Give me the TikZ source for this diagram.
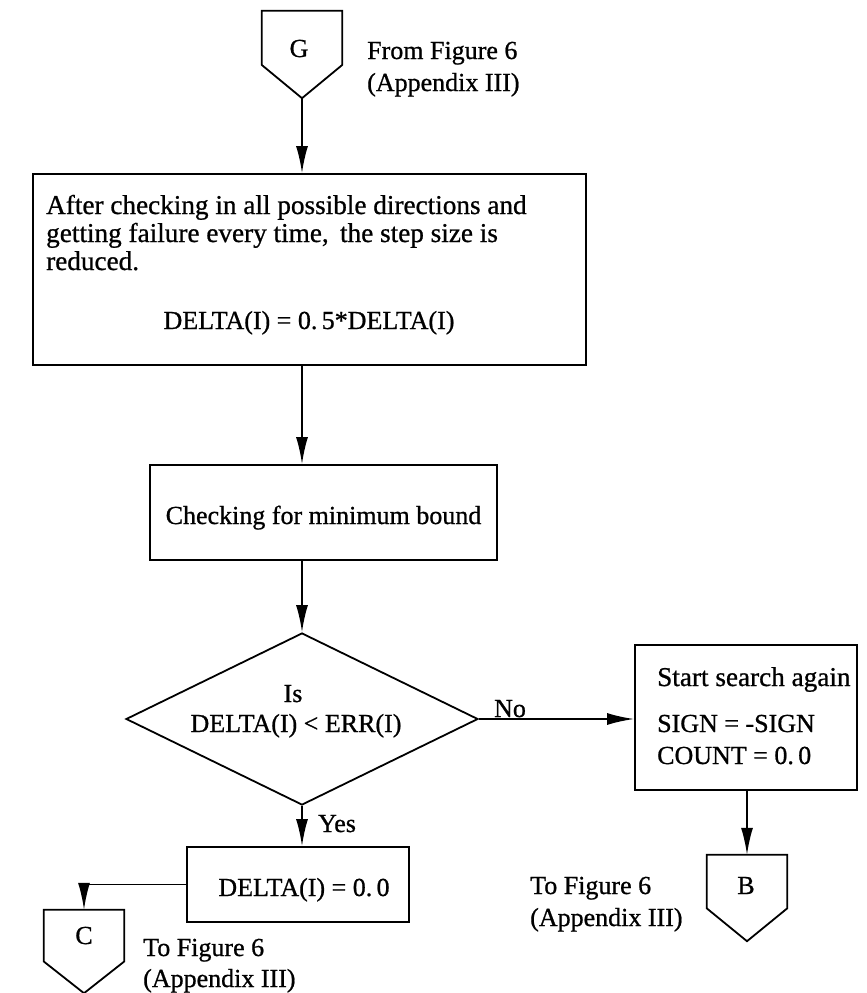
\documentclass[tikz,border=0pt]{standalone}
\usepackage{fontspec}
\setmainfont[FakeBold=0.8]{Liberation Serif}
\usetikzlibrary{arrows.meta,calc,shapes.geometric}
\begin{document}
\begin{tikzpicture}[x=1pt,y=-1pt,
  font=\fontsize{26}{30}\selectfont,
  flow/.style={line width=1.8pt,-{Latex[length=27pt,width=12pt]}},
  link/.style={line width=1.8pt},
  box/.style={draw,line width=1.8pt,inner sep=0pt},
  txt/.style={inner sep=0pt,anchor=base west},
  ctr/.style={inner sep=0pt,anchor=base},
  wide/.style={font=\fontsize{27.2}{30}\selectfont},
]
\useasboundingbox (0,0) rectangle (867,993);
% off-page connector: a box with a pointed bottom
\newcommand\offpage[1]{%
  \draw[link,line join=miter] (#1.north west) -- (#1.north east)
    -- ($(#1.north east)!0.62!(#1.south east)$) -- (#1.south)
    -- ($(#1.north west)!0.62!(#1.south west)$) -- cycle;}

% entry connector G
\node[inner sep=0pt,minimum width=80pt,minimum height=87pt] (G) at (302,54.5) {};
\offpage{G}
\node[ctr] (Gl) at (299,57) {G};
\node[txt] (Gn1) at (367,59) {From Figure 6};
\node[txt] (Gn2) at (367,91) {(Appendix III)};

% step-size reduction
\node[box,minimum width=553pt,minimum height=191pt] (S1) at (309.5,269.5) {};
\node[txt,wide] (S1a) at (46,214) {After checking in all possible directions and};
\node[txt,wide] (S1b) at (46,242) {getting failure every time,\, the step size is};
\node[txt,wide] (S1c) at (46,270) {reduced.};
\node[ctr] (S1d) at (309,329) {DELTA(I) = 0.\,5*DELTA(I)};

% minimum bound check
\node[box,minimum width=347pt,minimum height=95pt] (S2) at (323.5,512.5) {};
\node[ctr] (S2l) at (323.5,524) {Checking for minimum bound};

% decision
\node[draw,diamond,line width=1.8pt,inner sep=0pt,minimum width=352pt,minimum height=172pt] (D) at (302,719) {};
\node[ctr] (Da) at (293,702) {Is};
\node[ctr] (Db) at (296,732) {DELTA(I) < ERR(I)};

% restart branch
\node[box,minimum width=222pt,minimum height=145pt] (R) at (746,717.5) {};
\node[txt,wide] (Ra) at (657,686) {Start search again};
\node[txt] (Rb) at (657,732) {SIGN = -SIGN};
\node[txt] (Rc) at (657,764) {COUNT = 0.\,0};

% exit connector B
\node[inner sep=0pt,minimum width=80pt,minimum height=86pt] (B) at (747,898) {};
\offpage{B}
\node[ctr] (Bl) at (746,894) {B};
\node[txt] (Bn1) at (530,894) {To Figure 6};
\node[txt] (Bn2) at (530,926) {(Appendix III)};

% converged branch
\node[box,minimum width=222pt,minimum height=75pt] (Z) at (298,884.5) {};
\node[ctr] (Zl) at (304,896) {DELTA(I) = 0.\,0};

% exit connector C
\node[inner sep=0pt,minimum width=80pt,minimum height=83pt] (C) at (84,951.5) {};
\offpage{C}
\node[ctr] (Cl) at (84,944) {C};
\node[txt] (Cn1) at (143,956) {To Figure 6};
\node[txt] (Cn2) at (143,987) {(Appendix III)};

% connectors
\draw[flow] (G.south) -- (G.south |- S1.north);
\draw[flow] (S1.south -| D.north) -- (S2.north -| D.north);
\draw[flow] (S2.south -| D.north) -- (D.north);
\draw[flow] (D.east) -- (D.east -| R.west);
\node[ctr] (No) at (510,717) {No};
\draw[flow] (R.south -| B.north) -- (B.north);
\draw[flow] (D.south) -- (D.south |- Z.north);
\node[ctr] (Yes) at (337,832) {Yes};
\draw[flow] (Z.west) -| (C.north);
\end{tikzpicture}
\end{document}
